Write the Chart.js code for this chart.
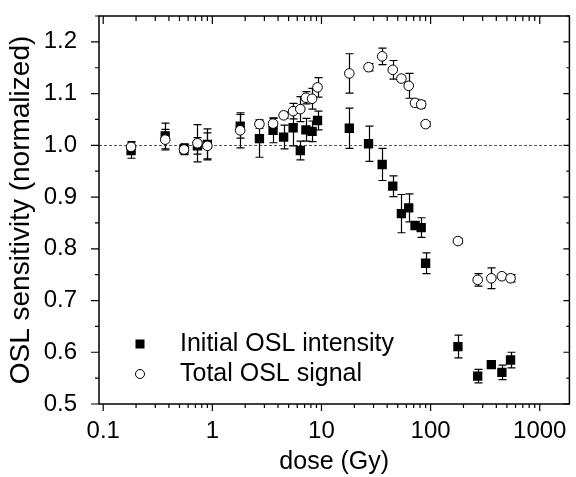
<!DOCTYPE html>
<html>
<head>
<meta charset="utf-8">
<script src="https://cdn.jsdelivr.net/npm/chart.js@4"></script>
<style>
  html, body { margin: 0; padding: 0; background: #fff; }
  #wrap { width: 576px; height: 477px; }
</style>
</head>
<body>
<div id="wrap"><canvas id="oslChart" width="576" height="477"></canvas></div>
<script>
// ----------------------------
// DATA
// ----------------------------
const doses = [0.18, 0.37, 0.55, 0.73, 0.90, 1.8, 2.7, 3.6, 4.5, 5.5, 6.4, 7.2, 8.2, 9.2,
  18, 27, 36, 45, 54, 63, 72, 82, 90, 178, 270, 360, 450, 540];

const initialOSL = [0.990, 1.018, 0.993, 0.999, 1.002, 1.037, 1.013, 1.029, 1.016, 1.034, 0.990, 1.030, 1.027, 1.048,
  1.033, 1.003, 0.963, 0.921, 0.868, 0.879, 0.845, 0.841, 0.772, 0.611, 0.554, 0.576, 0.561, 0.585];
const initialErr = [0.015, 0.025, 0.010, 0.016, 0.030, 0.023, 0.036, 0.024, 0.023, 0.035, 0.018, 0.022, 0.020, 0.018,
  0.039, 0.034, 0.031, 0.020, 0.037, 0.027, 0.005, 0.019, 0.020, 0.022, 0.013, 0.004, 0.014, 0.015];

const totalOSL = [0.997, 1.011, 0.992, 1.004, 0.999, 1.029, 1.041, 1.042, 1.058, 1.066, 1.070, 1.092, 1.090, 1.112,
  1.139, 1.151, 1.172, 1.146, 1.129, 1.115, 1.082, 1.079, 1.041, 0.815, 0.740, 0.743, 0.747, 0.743];
const totalErr = [0.010, 0.020, 0.010, 0.036, 0.025, 0.034, 0.008, 0.010, 0.006, 0.015, 0.024, 0.012, 0.020, 0.019,
  0.038, 0.007, 0.016, 0.018, 0.006, 0.024, 0.007, 0.007, 0.005, 0.005, 0.012, 0.020, 0.005, 0.007];

const xTickValues = [0.1, 1, 10, 100, 1000];
const yTickValues = [0.5, 0.6, 0.7, 0.8, 0.9, 1.0, 1.1, 1.2];
const yMinorValues = [0.55, 0.65, 0.75, 0.85, 0.95, 1.05, 1.15, 1.25];

const FONT = "'Liberation Sans', Arial, Helvetica, sans-serif";

// ----------------------------
// HELPERS
// ----------------------------
function xMinorValues() {
  const out = [];
  for (let e = -2; e <= 3; e++) {
    for (let m = 2; m <= 9; m++) out.push(m * Math.pow(10, e));
  }
  return out;
}

// ----------------------------
// PLUGIN: frame, ticks, reference line, error bars, legend
// ----------------------------
const framePlugin = {
  id: "frame",
  beforeDatasetsDraw(chart) {
    const { ctx, chartArea: a, scales: { x, y } } = chart;
    ctx.save();

    // dashed line at 1.0
    ctx.strokeStyle = "#555";
    ctx.lineWidth = 1;
    ctx.setLineDash([3, 2]);
    const y1 = Math.round(y.getPixelForValue(1.0)) + 0.5;
    ctx.beginPath();
    ctx.moveTo(a.left, y1);
    ctx.lineTo(a.right, y1);
    ctx.stroke();
    ctx.setLineDash([]);

    // error bars
    ctx.strokeStyle = "#000";
    ctx.lineWidth = 1.2;
    const drawErr = (vals, errs) => {
      doses.forEach((d, i) => {
        const px = Math.round(x.getPixelForValue(d)) + 0.5;
        const top = y.getPixelForValue(vals[i] + errs[i]);
        const bot = y.getPixelForValue(vals[i] - errs[i]);
        ctx.beginPath();
        ctx.moveTo(px, top); ctx.lineTo(px, bot);
        ctx.moveTo(px - 4, top); ctx.lineTo(px + 4, top);
        ctx.moveTo(px - 4, bot); ctx.lineTo(px + 4, bot);
        ctx.stroke();
      });
    };
    drawErr(initialOSL, initialErr);
    drawErr(totalOSL, totalErr);
    ctx.restore();
  },
  afterDraw(chart) {
    const { ctx, chartArea: a, scales: { x, y } } = chart;
    ctx.save();
    ctx.strokeStyle = "#000";
    ctx.lineWidth = 1.5;
    ctx.strokeRect(a.left, a.top, a.right - a.left, a.bottom - a.top);

    ctx.lineWidth = 1.2;
    ctx.beginPath();
    // x ticks: bottom outward, top inward
    xTickValues.forEach(v => {
      const px = x.getPixelForValue(v);
      ctx.moveTo(px, a.bottom); ctx.lineTo(px, a.bottom + 7);
      ctx.moveTo(px, a.top); ctx.lineTo(px, a.top + 8);
    });
    xMinorValues().forEach(v => {
      if (v < x.min || v > x.max) return;
      const px = x.getPixelForValue(v);
      ctx.moveTo(px, a.bottom); ctx.lineTo(px, a.bottom + 4);
      ctx.moveTo(px, a.top); ctx.lineTo(px, a.top + 5);
    });
    // y ticks: left outward, right inward
    yTickValues.forEach(v => {
      const py = y.getPixelForValue(v);
      ctx.moveTo(a.left, py); ctx.lineTo(a.left - 8, py);
      ctx.moveTo(a.right, py); ctx.lineTo(a.right - 6, py);
    });
    yMinorValues.forEach(v => {
      const py = y.getPixelForValue(v);
      ctx.moveTo(a.left, py); ctx.lineTo(a.left - 4, py);
      ctx.moveTo(a.right, py); ctx.lineTo(a.right - 3, py);
    });
    ctx.stroke();

    // legend
    const lx = 140;
    const rows = [
      { y: 344, ds: chart.data.datasets[0] },
      { y: 374, ds: chart.data.datasets[1] }
    ];
    ctx.lineWidth = 1;
    rows.forEach(r => {
      if (r.ds.pointStyle === "rect") {
        ctx.fillStyle = "#000";
        ctx.fillRect(lx - 4.5, r.y - 4.5, 9, 9);
      } else {
        ctx.fillStyle = "#fff";
        ctx.beginPath();
        ctx.arc(lx, r.y, 4.5, 0, Math.PI * 2);
        ctx.fill();
        ctx.stroke();
      }
      ctx.fillStyle = "#000";
      ctx.font = `25px ${FONT}`;
      ctx.textBaseline = "middle";
      ctx.textAlign = "left";
      ctx.fillText(r.ds.label, 180, r.y);
    });
    ctx.restore();
  }
};

// ----------------------------
// CHART
// ----------------------------
new Chart(document.getElementById("oslChart"), {
  type: "scatter",
  data: {
    datasets: [
      {
        label: "Initial OSL intensity",
        data: doses.map((d, i) => ({ x: d, y: initialOSL[i] })),
        pointStyle: "rect",
        pointRadius: 6.6,
        backgroundColor: "#000",
        borderColor: "#000",
        borderWidth: 0,
        order: 2
      },
      {
        label: "Total OSL signal",
        data: doses.map((d, i) => ({ x: d, y: totalOSL[i] })),
        pointStyle: "circle",
        pointRadius: 4.8,
        backgroundColor: "#fff",
        borderColor: "#000",
        borderWidth: 1,
        order: 1
      }
    ]
  },
  options: {
    responsive: false,
    animation: false,
    layout: { padding: { top: 16, right: 1, left: 0, bottom: 0 } },
    plugins: {
      legend: { display: false },
      tooltip: { enabled: false }
    },
    scales: {
      x: {
        type: "logarithmic",
        position: "bottom",
        min: 0.0915,
        max: 1870,
        grid: { display: false },
        border: { display: false },
        afterBuildTicks: s => { s.ticks = xTickValues.map(v => ({ value: v })); },
        afterFit: s => { s.height = 73; s.paddingLeft = 0; s.paddingRight = 0; },
        ticks: {
          color: "#000",
          font: { family: FONT, size: 24 },
          padding: 5,
          maxRotation: 0,
          autoSkip: false,
          callback: v => String(v)
        },
        title: {
          display: true,
          text: "dose (Gy)",
          color: "#000",
          font: { family: FONT, size: 25 },
          padding: { top: 0, bottom: 0 }
        }
      },
      y: {
        min: 0.5,
        max: 1.25,
        grid: { display: false },
        border: { display: false },
        afterBuildTicks: s => { s.ticks = yTickValues.map(v => ({ value: v })); },
        afterFit: s => { s.width = 99; s.paddingTop = 0; s.paddingBottom = 0; },
        ticks: {
          color: "#000",
          font: { family: FONT, size: 24 },
          padding: 14,
          callback: v => Number(v).toFixed(1)
        },
        title: {
          display: true,
          text: "OSL sensitivity (normalized)",
          color: "#000",
          font: { family: FONT, size: 28 },
          padding: { top: 4, bottom: 0 }
        }
      }
    }
  },
  plugins: [framePlugin]
});
</script>
</body>
</html>
